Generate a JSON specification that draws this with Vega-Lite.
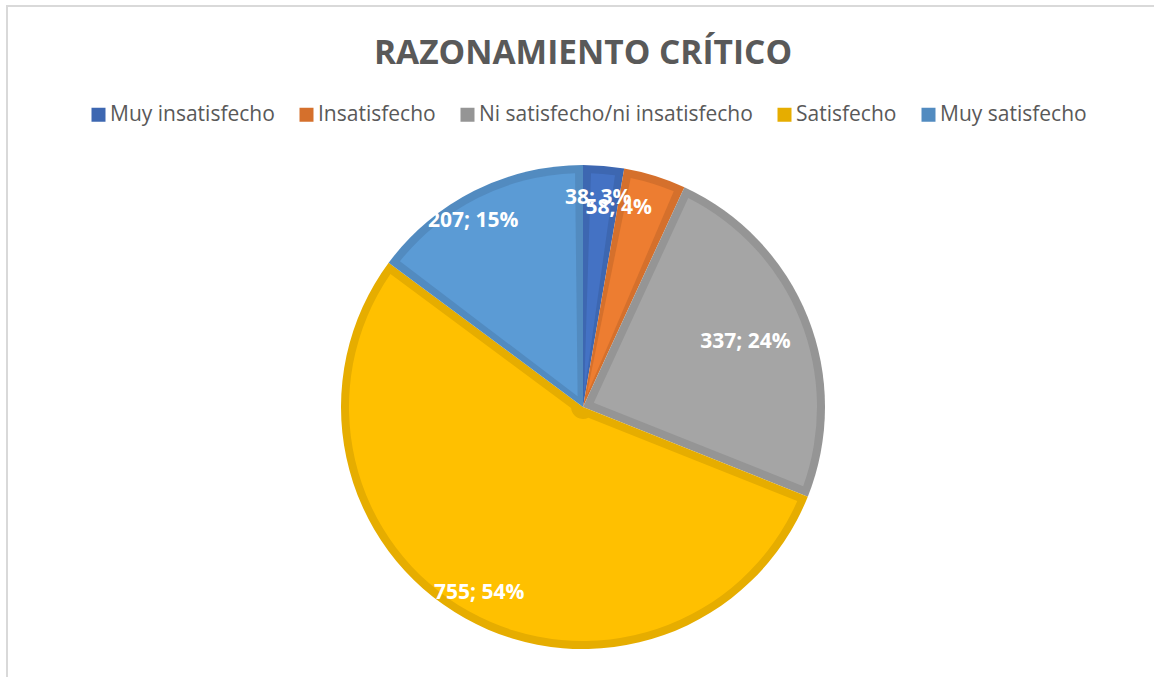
{
  "$schema": "https://vega.github.io/schema/vega-lite/v6.json",
  "autosize": {"type": "none"},
  "padding": {"left": 7, "top": 6, "right": -5, "bottom": -131},
  "width": 1152,
  "height": 802,
  "background": "white",
  "view": {"stroke": "#d9d9d9", "strokeWidth": 2, "fill": "white"},
  "config": {
    "font": "Open Sans"
  },
  "title": {
    "text": "RAZONAMIENTO CRÍTICO",
    "font": "Open Sans",
    "fontSize": 33.5,
    "fontWeight": "bold",
    "color": "#595959",
    "anchor": "middle",
    "frame": "group",
    "baseline": "alphabetic",
    "offset": -56,
    "dy": 35
  },
  "data": {
    "values": [
      {"nivel": "Muy insatisfecho", "n": 1, "valor": 38, "etiqueta": "38; 3%"},
      {"nivel": "Insatisfecho", "n": 2, "valor": 58, "etiqueta": "58; 4%"},
      {"nivel": "Ni satisfecho/ni insatisfecho", "n": 3, "valor": 337, "etiqueta": "337; 24%"},
      {"nivel": "Satisfecho", "n": 4, "valor": 755, "etiqueta": "755; 54%"},
      {"nivel": "Muy satisfecho", "n": 5, "valor": 207, "etiqueta": "207; 15%"}
    ]
  },
  "encoding": {
    "theta": {"field": "valor", "type": "quantitative", "stack": true},
    "order": {"field": "n", "type": "quantitative"}
  },
  "layer": [
    {
      "mark": {"type": "arc", "radius": 242},
      "encoding": {
        "color": {
          "field": "nivel",
          "type": "nominal",
          "scale": {
            "domain": ["Muy insatisfecho", "Insatisfecho", "Ni satisfecho/ni insatisfecho", "Satisfecho", "Muy satisfecho"],
            "range": ["#3D67B1", "#D5702C", "#959595", "#E6AD00", "#528BC0"]
          },
          "legend": {
            "title": null,
            "orient": "none",
            "direction": "horizontal",
            "columns": 5,
            "legendX": 81,
            "legendY": 98,
            "symbolType": "square",
            "symbolSize": 196,
            "symbolStrokeWidth": 0,
            "labelFont": "Open Sans",
            "labelFontSize": 21,
            "labelColor": "#595959",
            "labelOffset": 1,
            "columnPadding": 21,
            "labelLimit": 400
          }
        }
      }
    },
    {
      "mark": {"type": "arc", "radius": 234, "innerRadius": 12, "padAngle": 0.068},
      "encoding": {
        "color": {
          "field": "nivel",
          "type": "nominal",
          "scale": {
            "domain": ["Muy insatisfecho", "Insatisfecho", "Ni satisfecho/ni insatisfecho", "Satisfecho", "Muy satisfecho"],
            "range": ["#4472C4", "#ED7D31", "#A5A5A5", "#FFC000", "#5B9BD5"]
          },
          "legend": null
        }
      }
    },
    {
      "mark": {"type": "text", "radius": 213, "font": "Open Sans", "fontSize": 21, "fontWeight": "bold", "color": "white", "align": "center", "baseline": "middle"},
      "encoding": {
        "text": {"condition": {"test": "datum.n == 4", "field": "etiqueta"}, "value": ""}
      }
    },
    {
      "mark": {"type": "text", "radius": 213, "dx": -3, "dy": 3, "font": "Open Sans", "fontSize": 21, "fontWeight": "bold", "color": "white", "align": "center", "baseline": "middle"},
      "encoding": {
        "text": {"condition": {"test": "datum.n == 1", "field": "etiqueta"}, "value": ""}
      }
    },
    {
      "mark": {"type": "text", "radius": 213, "dx": -14, "dy": 4, "font": "Open Sans", "fontSize": 21, "fontWeight": "bold", "color": "white", "align": "center", "baseline": "middle"},
      "encoding": {
        "text": {"condition": {"test": "datum.n == 5", "field": "etiqueta"}, "value": ""}
      }
    },
    {
      "mark": {"type": "text", "radius": 204, "dx": -25, "dy": -4, "font": "Open Sans", "fontSize": 21, "fontWeight": "bold", "color": "white", "align": "center", "baseline": "middle"},
      "encoding": {
        "text": {"condition": {"test": "datum.n == 2", "field": "etiqueta"}, "value": ""}
      }
    },
    {
      "mark": {"type": "text", "radius": 175, "font": "Open Sans", "fontSize": 21, "fontWeight": "bold", "color": "white", "align": "center", "baseline": "middle"},
      "encoding": {
        "text": {"condition": {"test": "datum.n == 3", "field": "etiqueta"}, "value": ""}
      }
    }
  ],
  "resolve": {"scale": {"color": "independent"}}
}
